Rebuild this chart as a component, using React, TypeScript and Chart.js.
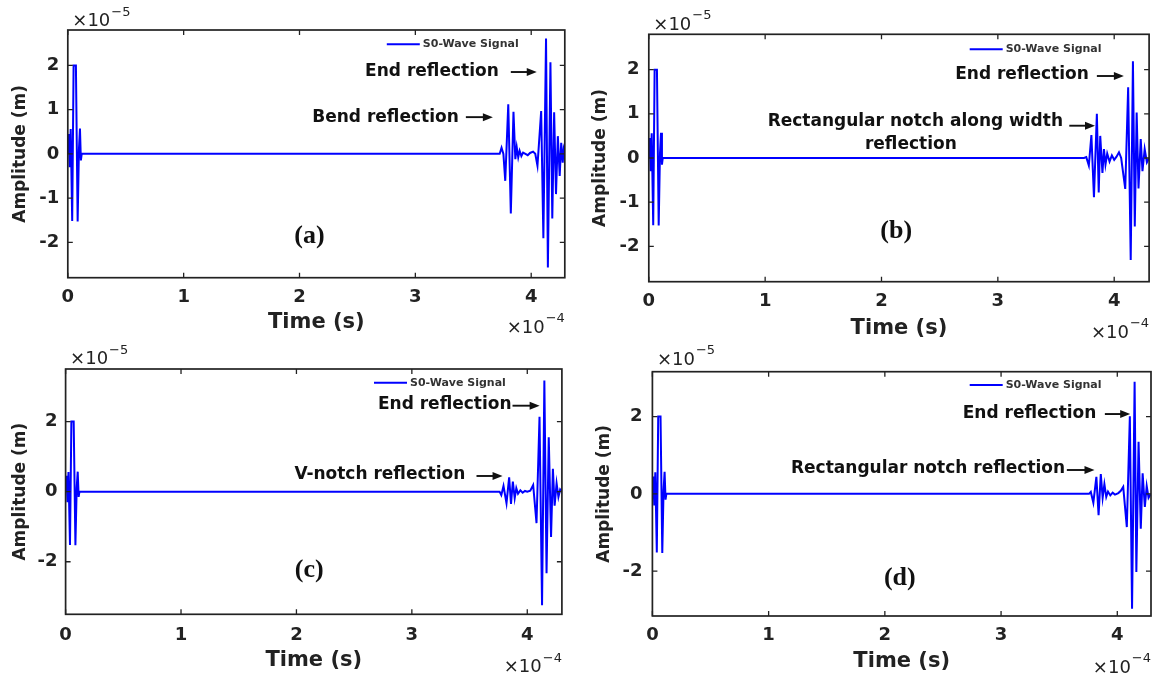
import React, { useEffect, useRef } from "react";
import { Chart, registerables } from "chart.js";

Chart.register(...registerables);

const PAGE_W = 1154;
const PAGE_H = 677;
const BLUE = "#0000ff";
const INK = "#222222";
const SANS = '"DejaVu Sans", "Liberation Sans", sans-serif';
const SERIF = '"Liberation Serif", "DejaVu Serif", serif';

// ---- Data (time in 1e-4 s, amplitude in 1e-5 m) ----
const xTicks = [0, 1, 2, 3, 4];
const yTicksAB = [-2, -1, 0, 1, 2];
const yTicksCD = [-2, 0, 2];

const incidentTime = [0, 0.008, 0.016, 0.025, 0.038, 0.05, 0.07, 0.085, 0.096, 0.105, 0.113, 0.12];
const incidentAmp = [0, 0.45, -0.3, 0.56, -1.52, 2.0, 2.0, -1.53, 0.1, 0.57, -0.15, 0];

const reflTimeA = [3.7, 3.728, 3.744, 3.76, 3.776, 3.802, 3.824, 3.847, 3.863, 3.875, 3.888, 3.9, 3.915, 3.93, 3.95, 3.97, 3.99, 4.016, 4.035, 4.054, 4.086, 4.105, 4.128, 4.144, 4.166, 4.182, 4.198, 4.214, 4.23, 4.246, 4.259, 4.272, 4.281, 4.29];
const reflAmpA = [0, 0, 0.14, 0.0, -0.61, 1.12, -1.35, 0.95, -0.12, 0.15, -0.08, 0.07, -0.05, 0.03, 0.0, -0.03, 0.02, 0.05, 0.0, -0.27, 0.97, -1.91, 2.61, -2.57, 2.07, -1.46, 0.94, -0.91, 0.4, -0.5, 0.25, -0.2, 0.1, 0];

const reflTimeB = [3.7, 3.741, 3.76, 3.782, 3.804, 3.826, 3.851, 3.867, 3.88, 3.899, 3.912, 3.925, 3.94, 3.96, 3.98, 4.0, 4.02, 4.041, 4.06, 4.095, 4.12, 4.142, 4.161, 4.177, 4.193, 4.209, 4.228, 4.243, 4.262, 4.281, 4.3];
const reflAmpB = [0, 0, 0.02, -0.17, 0.52, -0.89, 1.0, -0.78, 0.5, -0.34, 0.2, -0.15, 0.1, -0.08, 0.06, -0.04, 0.03, 0.13, 0.0, -0.7, 1.6, -2.31, 2.19, -1.55, 1.03, -0.69, 0.43, -0.3, 0.2, -0.1, 0];

const reflTimeC = [3.7, 3.76, 3.775, 3.794, 3.82, 3.843, 3.859, 3.875, 3.891, 3.905, 3.92, 3.94, 3.96, 3.98, 4.0, 4.026, 4.051, 4.08, 4.106, 4.128, 4.148, 4.167, 4.186, 4.206, 4.222, 4.237, 4.254, 4.27, 4.285, 4.3];
const reflAmpC = [0, 0, -0.1, 0.16, -0.33, 0.41, -0.35, 0.29, -0.19, 0.1, -0.06, 0.04, -0.03, 0.02, 0.0, 0.03, 0.19, -0.9, 2.14, -3.24, 3.17, -2.33, 1.55, -1.29, 0.65, -0.4, 0.24, -0.15, 0.06, 0];

const reflTimeD = [3.7, 3.757, 3.772, 3.794, 3.82, 3.839, 3.858, 3.874, 3.889, 3.905, 3.92, 3.94, 3.96, 3.98, 4.009, 4.03, 4.051, 4.082, 4.108, 4.127, 4.149, 4.164, 4.183, 4.202, 4.218, 4.237, 4.253, 4.269, 4.288];
const reflAmpD = [0, 0, 0.05, -0.23, 0.44, -0.55, 0.51, -0.1, 0.25, -0.08, 0.06, -0.04, 0.03, -0.02, 0.02, 0.08, 0.18, -0.86, 2.01, -2.97, 2.9, -2.02, 1.35, -0.9, 0.53, -0.34, 0.2, -0.1, 0];

const seriesLabel = "S0-Wave Signal";

type Note = { text: string; t: number; v: number; align: CanvasTextAlign };
type Arrow = { t1: number; t2: number; v: number };
type Box = {
  left: number; right: number; top: number; bottom: number;
  yTitleX: number; xTitleY: number; xTickPad: number; yTickPad: number;
  legendDx: number; legendDy: number; expTopDy: number; expBotDy: number;
};
type Panel = {
  time: number[]; amp: number[]; xMax: number; yLim: number; yTicks: number[];
  label: string; labelT: number; labelV: number; notes: Note[]; arrows: Arrow[]; box: Box;
};

const panels: Panel[] = [
  {
    time: [...incidentTime, ...reflTimeA], amp: [...incidentAmp, ...reflAmpA],
    xMax: 4.29, yLim: 2.8, yTicks: yTicksAB,
    label: "(a)", labelT: 2.086, labelV: -1.86,
    notes: [
      { text: "End reflection", t: 3.72, v: 1.85, align: "right" },
      { text: "Bend reflection", t: 3.375, v: 0.83, align: "right" },
    ],
    arrows: [
      { t1: 3.824, t2: 4.048, v: 1.85 },
      { t1: 3.436, t2: 3.669, v: 0.83 },
    ],
    box: { left: 67.8, right: 564.8, top: 30, bottom: 277.7, yTitleX: 20.4, xTitleY: 322.7, xTickPad: 9, yTickPad: 8.5, legendDx: 142, legendDy: 14.3, expTopDy: -8.3, expBotDy: 50.3 },
  },
  {
    time: [...incidentTime, ...reflTimeB], amp: [...incidentAmp, ...reflAmpB],
    xMax: 4.3, yLim: 2.8, yTicks: yTicksAB,
    label: "(b)", labelT: 2.126, labelV: -1.652,
    notes: [
      { text: "End reflection", t: 3.782, v: 1.879, align: "right" },
      { text: "Rectangular notch along width", t: 3.56, v: 0.822, align: "right" },
      { text: "reflection", t: 2.252, v: 0.31, align: "center" },
    ],
    arrows: [
      { t1: 3.851, t2: 4.083, v: 1.856 },
      { t1: 3.614, t2: 3.835, v: 0.731 },
    ],
    box: { left: 648.8, right: 1149.1, top: 34.3, bottom: 281.7, yTitleX: 601, xTitleY: 328.3, xTickPad: 9.8, yTickPad: 9.2, legendDx: 143.4, legendDy: 15, expTopDy: -9.3, expBotDy: 51.3 },
  },
  {
    time: [...incidentTime, ...reflTimeC], amp: [...incidentAmp, ...reflAmpC],
    xMax: 4.3, yLim: 3.5, yTicks: yTicksCD,
    label: "(c)", labelT: 2.111, labelV: -2.236,
    notes: [
      { text: "End reflection", t: 3.864, v: 2.493, align: "right" },
      { text: "V-notch reflection", t: 3.463, v: 0.475, align: "right" },
    ],
    arrows: [
      { t1: 3.872, t2: 4.107, v: 2.453 },
      { t1: 3.56, t2: 3.786, v: 0.447 },
    ],
    box: { left: 65.6, right: 561.9, top: 369, bottom: 614.3, yTitleX: 20.4, xTitleY: 661, xTickPad: 10.5, yTickPad: 8.2, legendDx: 151.9, legendDy: 13.7, expTopDy: -9.7, expBotDy: 53.4 },
  },
  {
    time: [...incidentTime, ...reflTimeD], amp: [...incidentAmp, ...reflAmpD],
    xMax: 4.29, yLim: 3.16, yTicks: yTicksCD,
    label: "(d)", labelT: 2.129, labelV: -2.184,
    notes: [
      { text: "End reflection", t: 3.82, v: 2.083, align: "right" },
      { text: "Rectangular notch reflection", t: 3.551, v: 0.661, align: "right" },
    ],
    arrows: [
      { t1: 3.893, t2: 4.111, v: 2.065 },
      { t1: 3.566, t2: 3.804, v: 0.617 },
    ],
    box: { left: 652.4, right: 1151, top: 371.7, bottom: 616, yTitleX: 604.8, xTitleY: 661.7, xTickPad: 8.8, yTickPad: 9.9, legendDx: 145.3, legendDy: 13.3, expTopDy: -11.7, expBotDy: 52 },
  },
];

const TICK_FONT = 18;
const Y_TITLE_FONT = 17;
const X_TITLE_FONT = 21;
const NOTE_FONT = 17;

function drawExp(ctx: CanvasRenderingContext2D, x: number, y: number, exp: string, alignRight: boolean) {
  ctx.textBaseline = "middle";
  ctx.fillStyle = INK;
  ctx.font = `18px ${SANS}`;
  const base = "\u00d710";
  const w1 = ctx.measureText(base).width;
  ctx.font = `13px ${SANS}`;
  const w2 = ctx.measureText(exp).width;
  const x0 = alignRight ? x - w1 - w2 - 1 : x;
  ctx.textAlign = "left";
  ctx.font = `18px ${SANS}`;
  ctx.fillText(base, x0, y);
  ctx.font = `13px ${SANS}`;
  ctx.fillText(exp, x0 + w1 + 1, y - 9);
}

function makeDecor(p: Panel) {
  return {
    id: "panelDecor",
    afterDraw(chart: any) {
      const { ctx, chartArea } = chart;
      const { left, right, top, bottom } = chartArea;
      const xs = chart.scales.x;
      const ys = chart.scales.y;
      ctx.save();
      // box
      ctx.strokeStyle = INK;
      ctx.lineWidth = 1.7;
      ctx.strokeRect(left, top, right - left, bottom - top);
      // inward ticks on all four sides
      ctx.lineWidth = 1.3;
      ctx.beginPath();
      const TL = 5;
      xTicks.forEach((v) => {
        const px = xs.getPixelForValue(v);
        ctx.moveTo(px, bottom); ctx.lineTo(px, bottom - TL);
        ctx.moveTo(px, top); ctx.lineTo(px, top + TL);
      });
      p.yTicks.forEach((v) => {
        const py = ys.getPixelForValue(v);
        ctx.moveTo(left, py); ctx.lineTo(left + TL, py);
        ctx.moveTo(right, py); ctx.lineTo(right - TL, py);
      });
      ctx.stroke();

      // legend
      const lx = right - p.box.legendDx;
      const ly = top + p.box.legendDy;
      ctx.strokeStyle = BLUE;
      ctx.lineWidth = 2;
      ctx.beginPath();
      ctx.moveTo(lx - 36, ly);
      ctx.lineTo(lx - 3, ly);
      ctx.stroke();
      ctx.fillStyle = "#333333";
      ctx.font = `bold 11px ${SANS}`;
      ctx.textAlign = "left";
      ctx.textBaseline = "middle";
      ctx.fillText(chart.data.datasets[0].label, lx, ly);

      // notes
      ctx.fillStyle = "#111111";
      ctx.font = `bold ${NOTE_FONT}px ${SANS}`;
      p.notes.forEach((n) => {
        ctx.textAlign = n.align;
        ctx.fillText(n.text, xs.getPixelForValue(n.t), ys.getPixelForValue(n.v));
      });
      // arrows
      ctx.strokeStyle = "#111111";
      ctx.fillStyle = "#111111";
      ctx.lineWidth = 1.9;
      p.arrows.forEach((a) => {
        const x1 = xs.getPixelForValue(a.t1);
        const x2 = xs.getPixelForValue(a.t2);
        const y = ys.getPixelForValue(a.v);
        ctx.beginPath();
        ctx.moveTo(x1, y);
        ctx.lineTo(x2 - 7, y);
        ctx.stroke();
        ctx.beginPath();
        ctx.moveTo(x2, y);
        ctx.lineTo(x2 - 10, y - 4);
        ctx.lineTo(x2 - 10, y + 4);
        ctx.closePath();
        ctx.fill();
      });
      // panel label
      ctx.fillStyle = "#111111";
      ctx.font = `bold 26px ${SERIF}`;
      ctx.textAlign = "center";
      ctx.fillText(p.label, xs.getPixelForValue(p.labelT), ys.getPixelForValue(p.labelV));

      // exponent labels
      drawExp(ctx, left + 4.5, top + p.box.expTopDy, "\u22125", false);
      drawExp(ctx, right, bottom + p.box.expBotDy, "\u22124", true);
      ctx.restore();
    },
  };
}

function PanelChart({ p }: { p: Panel }) {
  const ref = useRef<HTMLCanvasElement | null>(null);
  useEffect(() => {
    if (!ref.current) return;
    const b = p.box;
    const padL = b.yTitleX - (Y_TITLE_FONT * 1.2) / 2;
    const yW = b.left - padL;
    const xAxisBottom = b.xTitleY + (X_TITLE_FONT * 1.2) / 2;
    const xH = xAxisBottom - b.bottom;
    const padB = PAGE_H - xAxisBottom;
    const padR = PAGE_W - b.right;
    const padT = b.top;
    const chart = new Chart(ref.current, {
      type: "line",
      data: {
        datasets: [
          {
            label: seriesLabel,
            data: p.time.map((t, i) => ({ x: t, y: p.amp[i] })),
            borderColor: BLUE,
            borderWidth: 2,
            pointRadius: 0,
            fill: false,
            tension: 0,
          },
        ],
      },
      options: {
        responsive: false,
        animation: false,
        devicePixelRatio: 1,
        events: [],
        layout: { padding: { left: padL, right: padR, top: padT, bottom: padB } },
        plugins: { legend: { display: false }, tooltip: { enabled: false }, title: { display: false } },
        scales: {
          x: {
            type: "linear",
            min: 0,
            max: p.xMax,
            afterBuildTicks: (s: any) => { s.ticks = xTicks.map((v) => ({ value: v })); },
            afterFit: (s: any) => { s.height = xH; },
            grid: { display: false, drawTicks: false },
            border: { display: false },
            ticks: {
              padding: b.xTickPad - 0.6,
              color: INK,
              autoSkip: false,
              maxRotation: 0,
              font: { family: SANS, size: TICK_FONT, weight: "bold" },
              callback: (v: any) => String(v),
            },
            title: {
              display: true,
              text: "Time (s)",
              color: INK,
              padding: 0,
              font: { family: SANS, size: X_TITLE_FONT, weight: "bold" },
            },
          },
          y: {
            type: "linear",
            min: -p.yLim,
            max: p.yLim,
            afterBuildTicks: (s: any) => { s.ticks = p.yTicks.map((v) => ({ value: v })); },
            afterFit: (s: any) => { s.width = yW; },
            grid: { display: false, drawTicks: false },
            border: { display: false },
            ticks: {
              padding: b.yTickPad,
              color: INK,
              autoSkip: false,
              font: { family: SANS, size: TICK_FONT, weight: "bold" },
              callback: (v: any) => String(v),
            },
            title: {
              display: true,
              text: "Amplitude (m)",
              color: INK,
              padding: 0,
              font: { family: SANS, size: Y_TITLE_FONT, weight: "bold" },
            },
          },
        },
      } as any,
      plugins: [makeDecor(p)],
    });
    return () => chart.destroy();
  }, [p]);
  return (
    <canvas
      ref={ref}
      width={PAGE_W}
      height={PAGE_H}
      style={{ position: "absolute", left: 0, top: 0, width: PAGE_W, height: PAGE_H }}
    />
  );
}

export default function App() {
  return (
    <div style={{ position: "absolute", left: 0, top: 0, width: PAGE_W, height: PAGE_H, background: "#ffffff", overflow: "hidden" }}>
      {panels.map((p, i) => (
        <PanelChart key={i} p={p} />
      ))}
    </div>
  );
}
